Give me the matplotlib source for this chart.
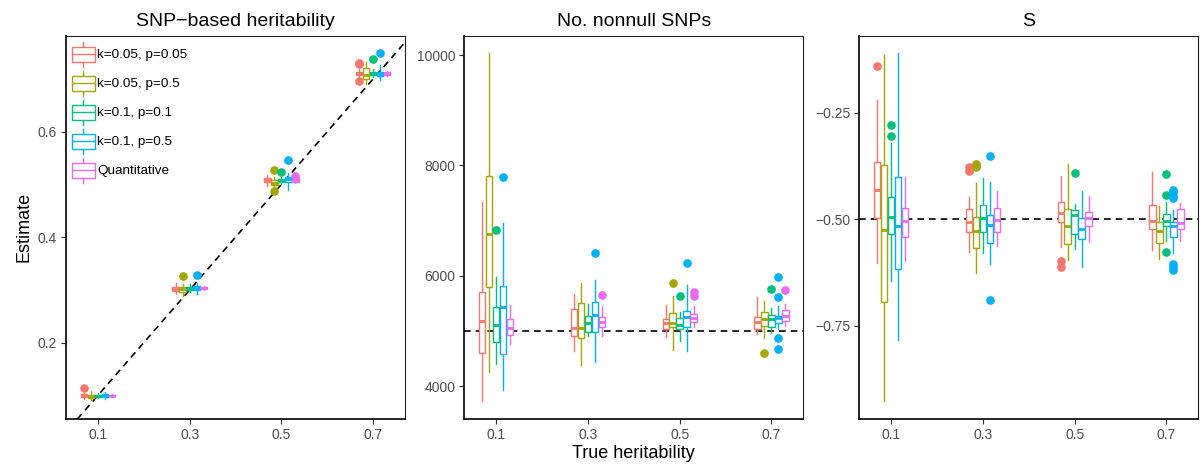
import matplotlib
matplotlib.use("Agg")
import matplotlib.pyplot as plt
from matplotlib.patches import Rectangle
from matplotlib.lines import Line2D
from matplotlib.legend_handler import HandlerBase

plt.rcParams['font.family'] = ['Liberation Sans', 'DejaVu Sans']

# ---------------- data ----------------
true_h2 = [0.1, 0.3, 0.5, 0.7]
tick_labels = ["0.1", "0.3", "0.5", "0.7"]
series = ["k=0.05, p=0.05", "k=0.05, p=0.5", "k=0.1, p=0.1", "k=0.1, p=0.5", "Quantitative"]
colors = ["#F8766D", "#A3A500", "#00BF7D", "#00B0F6", "#E76BF3"]
titles = ["SNP\u2212based heritability", "No. nonnull SNPs", "S"]

# Panel 1: SNP-based heritability  (rows: true h2, cols: series)
h2_whislo = [[0.093, 0.091, 0.095, 0.094, 0.097],
             [0.292, 0.289, 0.296, 0.292, 0.299],
             [0.497, 0.495, 0.500, 0.490, 0.502],
             [0.702, 0.690, 0.703, 0.698, 0.705]]
h2_q1 = [[0.097, 0.096, 0.097, 0.097, 0.098],
         [0.298, 0.297, 0.300, 0.300, 0.301],
         [0.504, 0.498, 0.504, 0.505, 0.505],
         [0.707, 0.699, 0.707, 0.705, 0.707]]
h2_med = [[0.099, 0.099, 0.099, 0.100, 0.0995],
          [0.302, 0.301, 0.303, 0.304, 0.303],
          [0.508, 0.502, 0.507, 0.510, 0.508],
          [0.710, 0.708, 0.711, 0.710, 0.710]]
h2_q3 = [[0.102, 0.101, 0.101, 0.103, 0.1005],
         [0.306, 0.305, 0.306, 0.308, 0.305],
         [0.512, 0.508, 0.510, 0.515, 0.512],
         [0.713, 0.720, 0.713, 0.714, 0.713]]
h2_whishi = [[0.106, 0.108, 0.104, 0.107, 0.102],
             [0.313, 0.312, 0.311, 0.314, 0.307],
             [0.518, 0.515, 0.514, 0.522, 0.515],
             [0.718, 0.733, 0.718, 0.726, 0.716]]
h2_fliers = [[[0.114], [], [], [], []],
             [[], [0.327], [], [0.328], []],
             [[], [0.527, 0.488], [0.524], [0.547], [0.516]],
             [[0.728, 0.731, 0.697], [], [0.738], [0.750], []]]

# Panel 2: number of nonnull SNPs
nn_whislo = [[3728, 4260, 4393, 3928, 4756],
             [4635, 4381, 4907, 4429, 4907],
             [4895, 4653, 4816, 4635, 5076],
             [4943, 4864, 4967, 5027, 5088]]
nn_q1 = [[4604, 5801, 4792, 4580, 4925],
         [4913, 4876, 4985, 4985, 5064],
         [5033, 5076, 5033, 5064, 5167],
         [5027, 5088, 5064, 5136, 5178]]
nn_med = [[5179, 6755, 5106, 5438, 5058],
          [5046, 5046, 5148, 5287, 5154],
          [5136, 5136, 5106, 5257, 5227],
          [5166, 5209, 5221, 5227, 5269]]
nn_q3 = [[5698, 7813, 5426, 5819, 5209],
         [5390, 5499, 5269, 5517, 5245],
         [5221, 5317, 5227, 5366, 5305],
         [5257, 5336, 5287, 5269, 5378]]
nn_whishi = [[7330, 10030, 5982, 6961, 5469],
             [5662, 5861, 5487, 5922, 5450],
             [5462, 5632, 5335, 5825, 5456],
             [5607, 5547, 5420, 5456, 5487]]
nn_fliers = [[[], [], [6828], [7795], []],
             [[], [], [], [6405], [5650]],
             [[], [5873], [5632], [6236], [5710, 5638]],
             [[], [4592], [5759], [5970, 5607, 4870, 4677], [5740]]]

# Panel 3: S
s_whislo = [[-0.603, -0.926, -0.644, -0.784, -0.598],
            [-0.577, -0.627, -0.580, -0.605, -0.562],
            [-0.566, -0.595, -0.570, -0.611, -0.554],
            [-0.572, -0.594, -0.550, -0.580, -0.552]]
s_q1 = [[-0.498, -0.695, -0.534, -0.616, -0.542],
        [-0.531, -0.568, -0.530, -0.556, -0.529],
        [-0.507, -0.559, -0.534, -0.547, -0.516],
        [-0.523, -0.555, -0.515, -0.541, -0.523]]
s_med = [[-0.431, -0.525, -0.495, -0.516, -0.505],
         [-0.507, -0.527, -0.496, -0.513, -0.502],
         [-0.486, -0.517, -0.491, -0.523, -0.496],
         [-0.504, -0.527, -0.505, -0.517, -0.508]]
s_q3 = [[-0.366, -0.373, -0.447, -0.402, -0.474],
        [-0.476, -0.495, -0.466, -0.490, -0.474],
        [-0.459, -0.476, -0.478, -0.496, -0.484],
        [-0.466, -0.507, -0.488, -0.507, -0.476]]
s_whishi = [[-0.220, -0.115, -0.322, -0.111, -0.400],
            [-0.448, -0.416, -0.404, -0.413, -0.434],
            [-0.398, -0.370, -0.464, -0.433, -0.445],
            [-0.390, -0.469, -0.460, -0.478, -0.463]]
s_fliers = [[[-0.142], [], [-0.280, -0.306], [], []],
            [[-0.377, -0.388], [-0.370, -0.377], [], [-0.353, -0.689], []],
            [[-0.599, -0.613], [], [-0.391], [], []],
            [[], [], [-0.394, -0.443, -0.577], [-0.431, -0.437, -0.445, -0.451, -0.605, -0.613, -0.619], []]]

panels = [
    (h2_whislo, h2_q1, h2_med, h2_q3, h2_whishi, h2_fliers, (0.0553, 0.782), [0.2, 0.4, 0.6]),
    (nn_whislo, nn_q1, nn_med, nn_q3, nn_whishi, nn_fliers, (3402, 10350), [4000, 6000, 8000, 10000]),
    (s_whislo, s_q1, s_med, s_q3, s_whishi, s_fliers, (-0.968, -0.070), [-0.75, -0.50, -0.25]),
]
ytick_fmt = [lambda v: f"{v:.1f}", lambda v: f"{v:.0f}", lambda v: f"{v:.2f}".replace("-", "\u2212")]

# ---------------- figure ----------------
fig = plt.figure(figsize=(12, 4.66), dpi=100)
W, H = 1200, 466
lefts = [66, 464.3, 859.3]
axw = 339
top_px, bot_px = 35.7, 419

dodge = 0.0152
box_w = 0.014
axes = []
for pi, (wlo, q1, med, q3, whi, fl, ylim, yticks) in enumerate(panels):
    ax = fig.add_axes([lefts[pi] / W, (H - bot_px) / H, axw / W, (bot_px - top_px) / H])
    axes.append(ax)
    ax.set_xlim(0.0305, 0.7695)
    ax.set_ylim(*ylim)
    # reference lines
    if pi == 0:
        ax.axline((0, 0), slope=1, color="black", ls=(0, (4, 3)), lw=1.2, zorder=1)
    elif pi == 1:
        ax.axhline(5000, color="black", ls=(0, (4, 3)), lw=1.2, zorder=1)
    else:
        ax.axhline(-0.5, color="black", ls=(0, (4, 3)), lw=1.2, zorder=1)
    for si, col in enumerate(colors):
        stats = []
        pos = []
        for xi, xv in enumerate(true_h2):
            stats.append(dict(whislo=wlo[xi][si], q1=q1[xi][si], med=med[xi][si],
                              q3=q3[xi][si], whishi=whi[xi][si], fliers=fl[xi][si]))
            pos.append(xv + (si - 2) * dodge)
        ax.bxp(stats, positions=pos, widths=box_w, patch_artist=True, showcaps=False,
               manage_ticks=False,
               boxprops=dict(facecolor="white", edgecolor=col, lw=1.0),
               medianprops=dict(color=col, lw=2.0, solid_capstyle="butt"),
               whiskerprops=dict(color=col, lw=1.0),
               flierprops=dict(marker="o", markerfacecolor=col, markeredgecolor=col,
                               markersize=5.2, linestyle="none"),
               zorder=3)
    ax.set_xticks(true_h2)
    ax.set_xticklabels(tick_labels)
    ax.set_yticks(yticks)
    ax.set_yticklabels([ytick_fmt[pi](v) for v in yticks])
    ax.tick_params(axis="both", direction="out", length=3.5, width=0.8, color="#333333",
                   labelsize=10, labelcolor="#4D4D4D", pad=3)
    for side in ["top", "right"]:
        ax.spines[side].set_linewidth(0.8)
        ax.spines[side].set_color("#222222")
    for side in ["left", "bottom"]:
        ax.spines[side].set_linewidth(1.2)
        ax.spines[side].set_color("black")
    ax.set_title(titles[pi], fontsize=14, color="black", pad=7)

axes[0].set_ylabel("Estimate", fontsize=13)
axes[0].yaxis.set_label_coords((32 - 66) / axw, 0.5)
axes[1].set_xlabel("True heritability", fontsize=13)
axes[1].xaxis.set_label_coords(0.5, (419 - 445) / (bot_px - top_px))


class BoxHandler(HandlerBase):
    def __init__(self, color):
        super().__init__()
        self.color = color

    def create_artists(self, legend, orig_handle, xdescent, ydescent, width, height, fontsize, trans):
        c = self.color
        cx = width / 2 - xdescent
        bh = height * 0.6
        by = (height - bh) / 2 - ydescent
        rect = Rectangle((-xdescent, by), width, bh, facecolor="white", edgecolor=c, lw=1.0, transform=trans)
        med = Line2D([-xdescent, width - xdescent], [by + bh / 2] * 2, color=c, lw=1.0, transform=trans)
        w1 = Line2D([cx, cx], [by + bh, height - ydescent], color=c, lw=1.0, transform=trans)
        w2 = Line2D([cx, cx], [-ydescent, by], color=c, lw=1.0, transform=trans)
        return [rect, med, w1, w2]


handles = [Rectangle((0, 0), 1, 1) for _ in series]
hmap = {h: BoxHandler(c) for h, c in zip(handles, colors)}
axes[0].legend(handles, series, handler_map=hmap, loc="upper left", frameon=False,
               fontsize=9.7, handlelength=1.68, handleheight=2.47, labelspacing=0.3,
               handletextpad=0.2, borderaxespad=0.2, borderpad=0.25)

fig.savefig("out.png", dpi=100)
